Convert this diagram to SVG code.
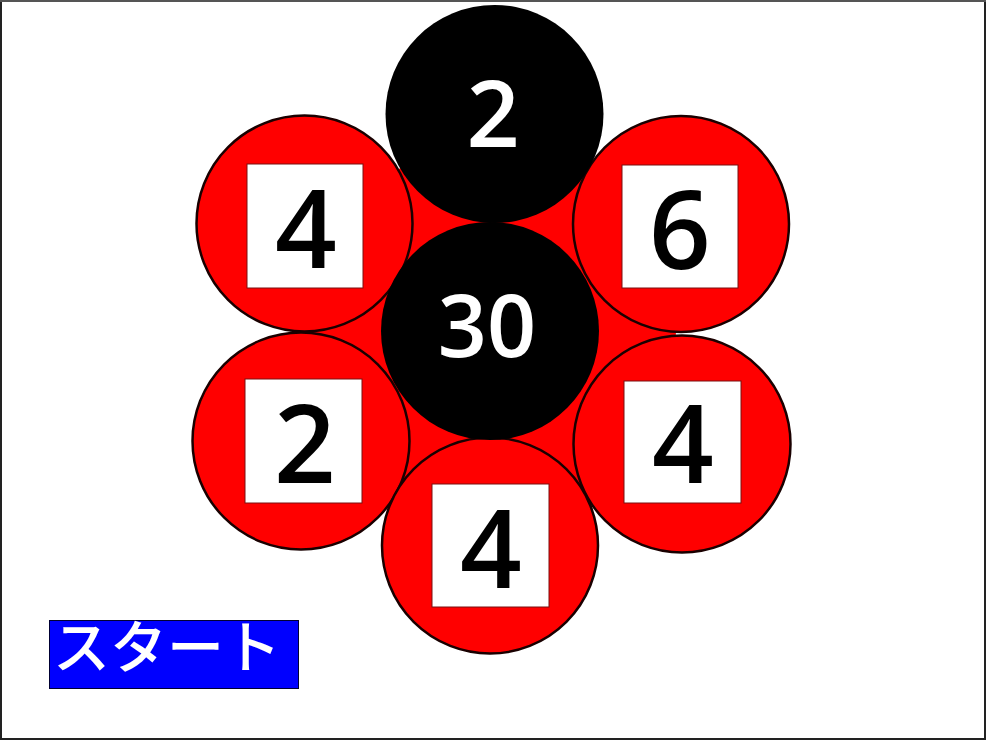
<svg xmlns="http://www.w3.org/2000/svg" width="986" height="740" viewBox="0 0 986 740">
<style>
.red{fill:#ff0000;stroke:#1a0000;stroke-width:2.5}
.blk{fill:#000}
.sq{fill:#fff;stroke:#7a1010;stroke-width:1}
.dk{font-family:"Open Sans","DejaVu Sans",sans-serif;font-size:108px;font-weight:600;fill:#000;text-anchor:middle}
.wt{font-family:"Open Sans","DejaVu Sans",sans-serif;font-weight:600;fill:#fff;text-anchor:middle}
</style>
<rect x="1" y="1" width="984" height="738" fill="#fff" stroke="#222" stroke-width="2"/>
<line x1="0" y1="1" x2="986" y2="1" stroke="#555" stroke-width="2"/>
<circle cx="490" cy="331" r="186" fill="#ff0000"/>
<g id="n-top-left"><circle class="red" cx="304.5" cy="223.5" r="108"/><rect class="sq" x="247" y="164" width="116" height="124"/><text class="dk" x="306" y="268">4</text></g>
<g id="n-top-right"><circle class="red" cx="681" cy="224" r="108"/><rect class="sq" x="622" y="165" width="116" height="123"/><text class="dk" x="680" y="269">6</text></g>
<g id="n-bottom-left"><circle class="red" cx="301" cy="441" r="108.5"/><rect class="sq" x="245" y="379" width="117" height="124"/><text class="dk" x="305" y="483">2</text></g>
<g id="n-bottom-right"><circle class="red" cx="682" cy="444" r="108.5"/><rect class="sq" x="624" y="381" width="117" height="122"/><text class="dk" x="683" y="483">4</text></g>
<g id="n-bottom"><circle class="red" cx="490" cy="545.5" r="108"/><rect class="sq" x="432" y="484" width="117" height="123"/><text class="dk" x="491" y="588">4</text></g>
<g id="n-top"><circle class="blk" cx="494.5" cy="114" r="109"/><text class="wt" x="493" y="147" font-size="93">2</text></g>
<g id="n-center"><circle class="blk" cx="490" cy="331" r="109"/><text class="wt" x="487" y="357" font-size="86">30</text></g>
<g id="connectors"></g>
<g id="start"><rect x="49.5" y="620.5" width="249" height="68" fill="#0000ff" stroke="#000033" stroke-width="1"/><text x="53" y="668" font-family="Noto Sans CJK JP, sans-serif" font-size="57" font-weight="500" fill="#fff" textLength="228" lengthAdjust="spacing">スタート</text></g>
</svg>
